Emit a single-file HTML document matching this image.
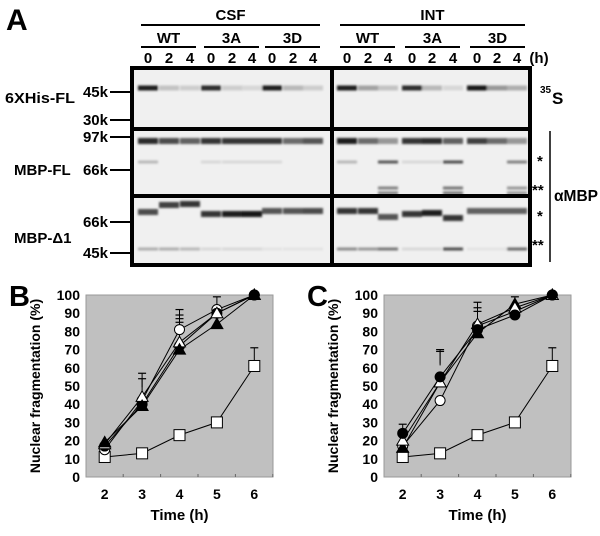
<!DOCTYPE html>
<html><head><meta charset="utf-8"><style>
html,body{margin:0;padding:0;background:#fff;}
body{width:600px;height:531px;overflow:hidden;font-family:"Liberation Sans",Arial,sans-serif;}
svg text{font-family:"Liberation Sans",Arial,sans-serif;font-weight:bold;}
</style></head><body>
<svg id="fig" width="600" height="531" viewBox="0 0 600 531">
<defs><filter id="bl" x="-20%" y="-200%" width="140%" height="500%"><feGaussianBlur stdDeviation="1.1"/></filter></defs>
<g id="panelA">
<text x="6" y="30" font-size="30">A</text>
<g id="gelbg"></g>
<g id="bands" filter="url(#bl)"></g>
<g id="gelframe" fill="none" stroke="#000" stroke-width="4">
<rect x="132" y="68" width="398" height="197"/>
<line x1="332" y1="68" x2="332" y2="265"/>
<line x1="132" y1="129" x2="530" y2="129"/>
<line x1="132" y1="196" x2="530" y2="196"/>
</g>
<g id="headers" font-size="15" text-anchor="middle"></g>
<g font-size="15">
<text x="5" y="103" textLength="70" lengthAdjust="spacingAndGlyphs">6XHis-FL</text>
<text x="14" y="175">MBP-FL</text>
<text x="14" y="243">MBP-Δ1</text>
</g>
<g id="markers" font-size="15"></g>
<g font-size="15">
<text x="540" y="93" font-size="10">35</text>
<text x="552" y="104" font-size="17">S</text>
<line x1="550" y1="131" x2="550" y2="262" stroke="#000" stroke-width="1.5"/>
<text x="554" y="201" font-size="16" textLength="44" lengthAdjust="spacingAndGlyphs">αMBP</text>
<text x="537" y="166">*</text>
<text x="532" y="195">**</text>
<text x="537" y="221">*</text>
<text x="532" y="250">**</text>
</g>
</g>
<g id="chartB"></g>
<g id="chartC"></g>
</svg>
<script>
const NS="http://www.w3.org/2000/svg";
function mk(p,t,a){const e=document.createElementNS(NS,t);for(const k in a)e.setAttribute(k,a[k]);p.appendChild(e);return e;}
// ---- gel ----
const laneX=[148,169,190,211,232,252,272,293,313,347,368,388,412,432,453,477,497,517];
const lanes=document.getElementById('bands');
const bg=document.getElementById('gelbg');
let r=mk(bg,'rect',{x:132,y:68,width:398,height:197,fill:'#f0f0f0'});

const row35S=[0.95,0.2,0.15,0.9,0.15,0.1,0.95,0.25,0.15, 0.95,0.35,0.2,0.9,0.25,0.1,1,0.4,0.3];
const rowFL97=[0.9,0.75,0.65,0.85,0.85,0.85,0.85,0.6,0.7, 0.95,0.6,0.4,0.85,0.9,0.65,0.8,0.6,0.4];
const rowFLstar=[0.25,0,0,0.1,0.1,0.1,0.1,0,0, 0.25,0,0.7,0.1,0.1,0.75,0,0,0.5];
const rowFLdstar=[0,0,0,0,0,0,0,0,0, 0,0,0.5,0,0,0.55,0,0,0.4];
const rowD1=[0.75,0.8,0.85,0.85,0.95,1,0.7,0.7,0.75, 0.85,0.85,0.7,0.85,0.95,0.85,0.65,0.65,0.65];
const rowD1y=[212,205,204,214,214,214,211,211,211, 211,211,217,214,213,218,211,211,211];
const rowD1dstar=[0.3,0.3,0.25,0.1,0.1,0.1,0.05,0.05,0.05, 0.45,0.4,0.55,0.1,0.1,0.75,0.05,0.05,0.6];
function bands(arr,y,h,ys){arr.forEach((v,i)=>{if(v<=0)return;const g=Math.round(238-218*v);
 const b=mk(lanes,'rect',{x:laneX[i]-10,y:(ys?ys[i]:y)-h/2,width:20,height:h,fill:`rgb(${g},${g},${g})`});
 });}
bands(row35S,88,5);bands(rowFL97,141,6);bands(rowFLstar,162,3);bands(rowFLdstar,188,3);bands(rowFLdstar,193,3);
bands(rowD1,0,6,rowD1y);bands(rowD1dstar,249,3);
// headers
const H=document.getElementById('headers');
function hl(x1,x2,y,txt,ty,nm){let l=mk(H,'line',{x1:x1,x2:x2,y1:y,y2:y,stroke:'#000','stroke-width':2});
 
 let t=mk(H,'text',{x:(x1+x2)/2,y:ty});t.textContent=txt;}
hl(141,320,25,'CSF',20,'csf');hl(340,525,25,'INT',20,'int');
[[141,196,'WT'],[204,259,'3A'],[265,320,'3D'],[340,395,'WT'],[405,460,'3A'],[470,525,'3D']].forEach((s,i)=>hl(s[0],s[1],47,s[2],43,'group-'+i));
const laneLbl=['0','2','4'];
laneX.forEach((x,i)=>{const t=mk(H,'text',{x:x,y:63});t.textContent=laneLbl[i%3];});
let ht=mk(H,'text',{x:539,y:63});ht.textContent='(h)';
// markers
const M=document.getElementById('markers');
[['45k',92],['30k',120],['97k',137],['66k',170],['66k',222],['45k',253]].forEach(m=>{
 const t=mk(M,'text',{x:108,y:m[1]+5,'text-anchor':'end'});t.textContent=m[0];
 const l=mk(M,'line',{x1:110,x2:132,y1:m[1],y2:m[1],stroke:'#000','stroke-width':2});});

// ---- charts ----
const times=[2,3,4,5,6];
const yTicks=[0,10,20,30,40,50,60,70,80,90,100];
const B_openCircle=[15,42,81,92,100];
const B_filledCircle=[17,40,72,90,100];
const B_openTri=[18,44,74,90,100];
const B_filledTri=[19,39,70,84,100];
const B_square=[11,13,23,30,61];
const B_errTop=[[3,57],[3,54],[4,92],[4,89],[4,87],[4,85],[5,99],[6,71]];
const C_filledCircle=[24,55,81,89,100];
const C_openCircle=[17,42,83,91,100];
const C_openTri=[20,52,84,93,100];
const C_filledTri=[16,52,79,95,100];
const C_square=[11,13,23,30,61];
const C_errTop=[[2,29],[3,70],[3,69],[4,96],[4,93],[4,91],[5,99],[6,71]];

function chart(id,L,letter,series,errs){
 const g=document.getElementById(id);
 const R=L+187,T=295,Bt=477;
 const xs=t=>L+(t-1.5)/5*(R-L), ys=v=>Bt-v/100*(Bt-T);
 let p=mk(g,'rect',{x:L,y:T,width:R-L,height:Bt-T,fill:'#c0c0c0',stroke:'#999','stroke-width':1});
 
 let lt=mk(g,'text',{x:L-77,y:306,'font-size':29});lt.textContent=letter;
 yTicks.forEach(v=>{let t=mk(g,'text',{x:L-6,y:ys(v)+5,'font-size':14,'text-anchor':'end'});t.textContent=v;
  });
 times.forEach(v=>{let t=mk(g,'text',{x:xs(v),y:499,'font-size':14,'text-anchor':'middle'});t.textContent=v;
  
  let k=mk(g,'line',{x1:xs(v)+18.5,x2:xs(v)+18.5,y1:Bt,y2:Bt-3,stroke:'#666'});});
 let xt=mk(g,'text',{x:(L+R)/2,y:520,'font-size':15,'text-anchor':'middle'});xt.textContent='Time (h)';
 
 let yt=mk(g,'text',{x:0,y:0,'font-size':14,'text-anchor':'middle',transform:`translate(${L-46},386) rotate(-90)`});yt.textContent='Nuclear fragmentation (%)';
 
 errs.forEach(e=>{const x=xs(e[0]);const y=ys(e[1]);
  let l=mk(g,'line',{x1:x,x2:x,y1:y,y2:y+14,stroke:'#000','stroke-width':1});
  let c=mk(g,'line',{x1:x-4,x2:x+4,y1:y,y2:y,stroke:'#000','stroke-width':1.2});});
 series.forEach(s=>{const pts=s.vals.map((v,i)=>xs(times[i])+','+ys(v)).join(' ');
  let pl=mk(g,'polyline',{points:pts,fill:'none',stroke:'#000','stroke-width':1});});
 series.forEach(s=>{s.vals.forEach((v,i)=>{const x=xs(times[i]),y=ys(v);const f=s.fill?'#000':'#fff';let m;
  if(s.shape==='c')m=mk(g,'circle',{cx:x,cy:y,r:5,fill:f,stroke:'#000'});
  else if(s.shape==='t')m=mk(g,'polygon',{points:`${x},${y-6} ${x-6},${y+4.5} ${x+6},${y+4.5}`,fill:f,stroke:'#000'});
  else m=mk(g,'rect',{x:x-5.5,y:y-5.5,width:11,height:11,fill:f,stroke:'#000'});
  });});
}
chart('chartB',86,'B',[
 {name:'square',vals:B_square,shape:'s',fill:false},
 {name:'open-circle',vals:B_openCircle,shape:'c',fill:false},
 {name:'filled-circle',vals:B_filledCircle,shape:'c',fill:true},
 {name:'open-triangle',vals:B_openTri,shape:'t',fill:false},
 {name:'filled-triangle',vals:B_filledTri,shape:'t',fill:true}],B_errTop);
chart('chartC',384,'C',[
 {name:'square',vals:C_square,shape:'s',fill:false},
 {name:'open-circle',vals:C_openCircle,shape:'c',fill:false},
 {name:'filled-triangle',vals:C_filledTri,shape:'t',fill:true},
 {name:'open-triangle',vals:C_openTri,shape:'t',fill:false},
 {name:'filled-circle',vals:C_filledCircle,shape:'c',fill:true}],C_errTop);
</script>
</body></html>
